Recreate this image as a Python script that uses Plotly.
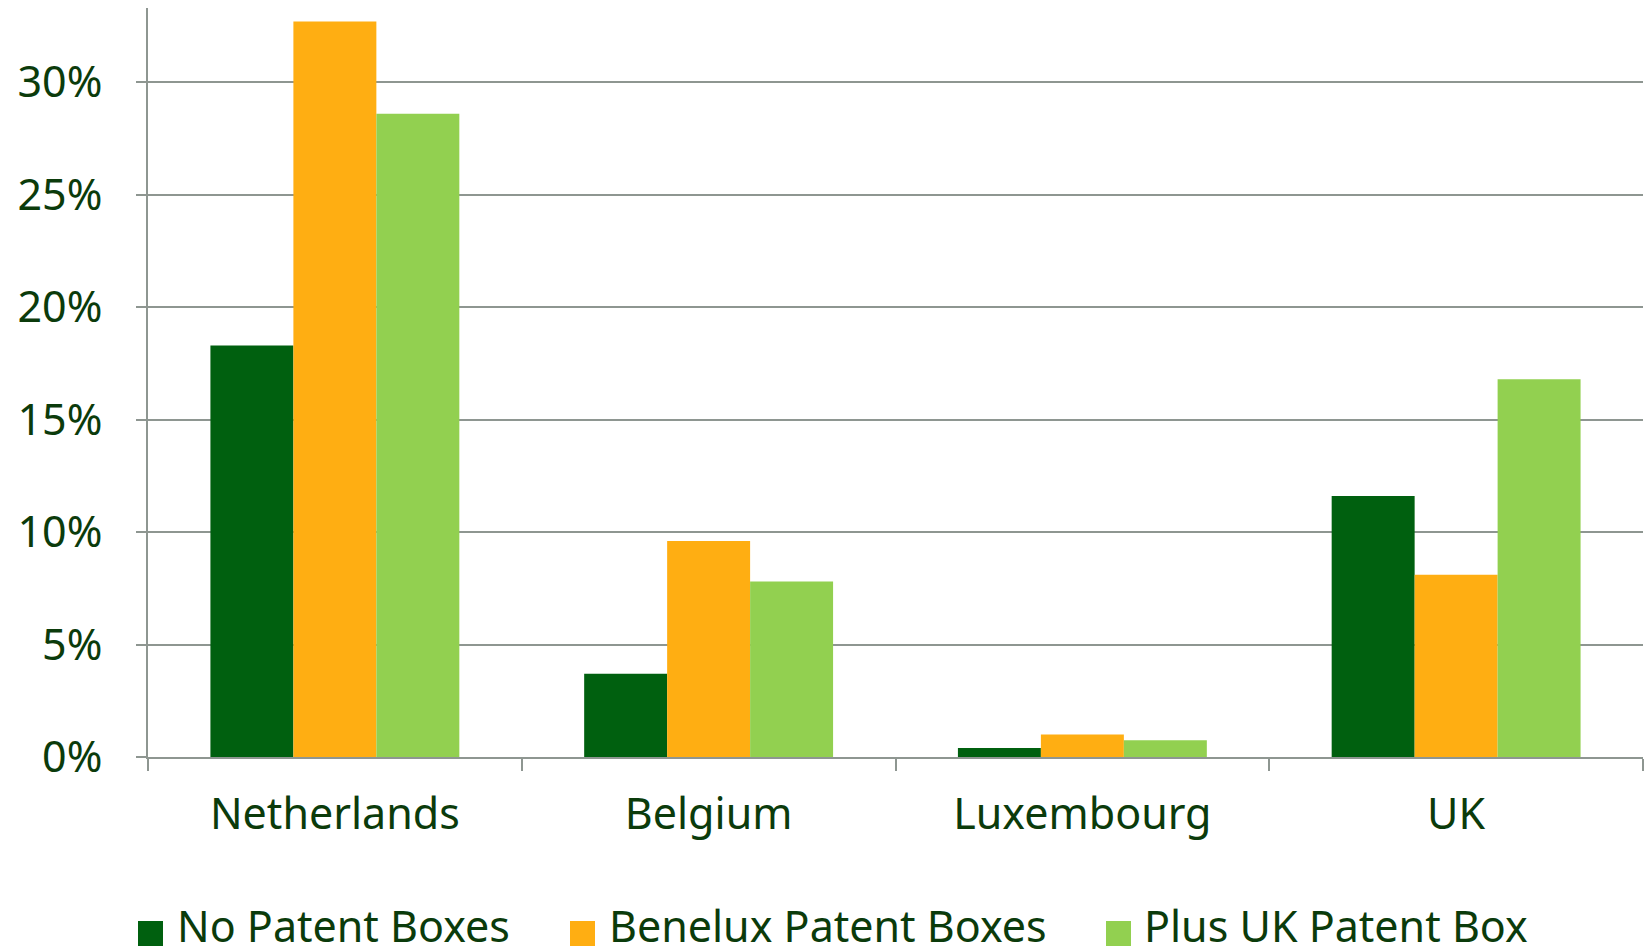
import plotly.graph_objects as go

categories = ["Netherlands", "Belgium", "Luxembourg", "UK"]
series_names = ["No Patent Boxes", "Benelux Patent Boxes", "Plus UK Patent Box"]
no_patent = [0.183, 0.037, 0.004, 0.116]
benelux = [0.327, 0.096, 0.010, 0.081]
plus_uk = [0.286, 0.078, 0.0075, 0.168]
colors = ["#00600F", "#FFAE12", "#92D050"]
y_ticks = [0, 0.05, 0.10, 0.15, 0.20, 0.25, 0.30]
y_tick_labels = ["0%", "5%", "10%", "15%", "20%", "25%", "30%"]

text_color = "#0B3B0B"
grid_color = "#8E9691"
font_family = "Noto Sans"

W, H = 1646, 951
ML, MR, MT, MB = 148, 3, 8, 194
PW, PH = W - ML - MR, H - MT - MB


def px_x(px):
    return (px - ML) / PW


def px_y(py):
    return (H - MB - py) / PH


fig = go.Figure()
for name, vals, col in zip(series_names, [no_patent, benelux, plus_uk], colors):
    fig.add_trace(go.Bar(x=categories, y=vals, name=name, showlegend=False,
                         marker=dict(color=col, line=dict(width=0))))

# manual legend (large square swatches like the original)
legend_square_x = [138, 570, 1106]
legend_text_x = [175, 607, 1142]
legend_text_cy = 925
sq_top, sq_size = 921, 25
for name, col, sx, tx in zip(series_names, colors, legend_square_x, legend_text_x):
    fig.add_shape(type="rect", xref="paper", yref="paper",
                  x0=px_x(sx), x1=px_x(sx + sq_size),
                  y0=px_y(sq_top + sq_size), y1=px_y(sq_top),
                  fillcolor=col, line=dict(width=0))
    fig.add_annotation(text=name, xref="paper", yref="paper",
                       x=px_x(tx), y=px_y(legend_text_cy), xanchor="left", yanchor="middle",
                       showarrow=False, font=dict(size=43, color=text_color))

fig.update_layout(
    width=W, height=H,
    barmode="group", bargap=0.334, bargroupgap=0,
    plot_bgcolor="white", paper_bgcolor="white",
    margin=dict(l=ML, r=MR, t=MT, b=MB, autoexpand=False),
    font=dict(family=font_family, size=43, color=text_color),
    showlegend=False,
)
fig.update_xaxes(showline=True, linecolor=grid_color, linewidth=2,
                 ticks="outside", tickson="boundaries", ticklen=12, tickwidth=1.5,
                 tickcolor=grid_color, ticklabelstandoff=18, automargin=False,
                 tickfont=dict(size=43, color=text_color))
fig.update_yaxes(range=[0, 0.333], tickvals=y_ticks, ticktext=y_tick_labels,
                 showgrid=True, gridcolor=grid_color, gridwidth=1.5,
                 showline=True, linecolor=grid_color, linewidth=2,
                 ticks="outside", ticklen=10, tickwidth=1.5, tickcolor=grid_color,
                 ticklabelstandoff=25, zeroline=False, automargin=False,
                 tickfont=dict(size=43, color=text_color))

fig.write_html("out.html", config={"displayModeBar": False},
               post_script="document.body.style.margin='0';document.body.style.overflow='hidden';")
